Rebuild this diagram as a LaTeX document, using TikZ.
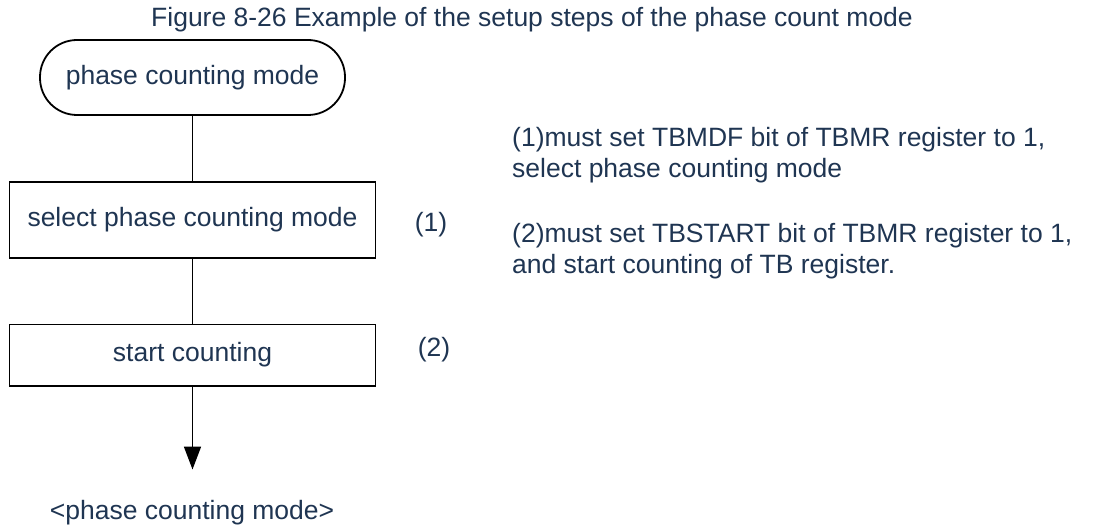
\documentclass[tikz,border=0pt]{standalone}
\usepackage{fontspec}
\setmainfont{Liberation Sans}
\usetikzlibrary{shapes.geometric, arrows.meta, positioning}
\definecolor{txtblue}{HTML}{1F3552}
\tikzstyle{startstop} = [rectangle, rounded corners=37pt, minimum width=305pt, minimum height=75pt, text centered, draw=black, line width=1.8pt, text=txtblue]
\tikzstyle{process} = [rectangle, minimum width=366pt, text centered, draw=black, line width=1.8pt, text=txtblue]
\tikzstyle{note} = [text=txtblue, inner sep=0pt]
\tikzstyle{line} = [line width=1.8pt]
\tikzstyle{arrow} = [line width=1.8pt, -{Triangle[length=23pt, width=17pt]}]

\begin{document}
\begin{tikzpicture}[x=1pt, y=1pt, node distance=65pt, every node/.style={font=\fontsize{26.5}{31}\selectfont}]
    \useasboundingbox (0,0) rectangle (1095,-529);
    \node (title) [note] at (532,-20) {Figure 8-26 Example of the setup steps of the phase count mode};
    \node (start) [startstop] at (192.5,-77.5) {phase counting mode};
    \node (select) [process, minimum height=76pt, below=of start] {select phase counting mode};
    \node (counting) [process, minimum height=61pt, below=of select] {start counting};
    \coordinate [below=83pt of counting] (tip);
    \node (result) [note] at (192,-513) {<phase counting mode>};
    \node (step1) [note] at (431,-225) {(1)};
    \node (step2) [note] at (434,-350) {(2)};
    \node (desc1) [note, align=left, anchor=west] at (512,-155) {(1)must set TBMDF bit of TBMR register to 1,\\select phase counting mode};
    \node (desc2) [note, align=left, anchor=west] at (512,-251) {(2)must set TBSTART bit of TBMR register to 1,\\and start counting of TB register.};

    \draw [line] (start) -- (select);
    \draw [line] (select) -- (counting);
    \draw [arrow] (counting) -- (tip);
\end{tikzpicture}
\end{document}
